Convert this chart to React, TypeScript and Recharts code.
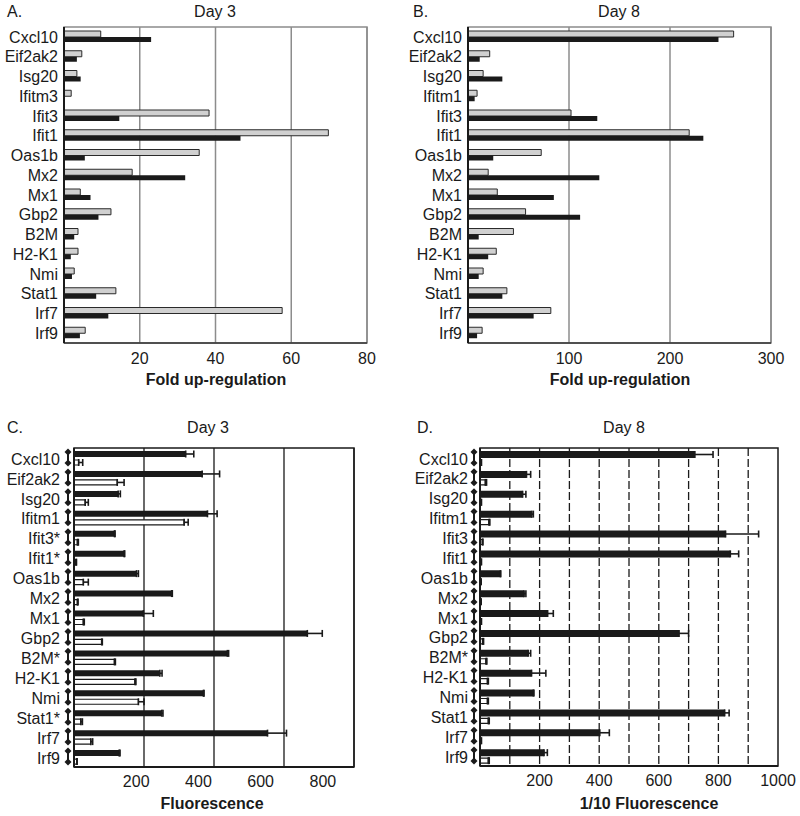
import React from 'react';
import { BarChart, Bar, XAxis, YAxis, CartesianGrid, ErrorBar, ReferenceArea } from 'recharts';

const FONT = '"Liberation Sans", Arial, Helvetica, sans-serif';
const INK = '#1a1a1a';

// A. Day 3 - fold up-regulation (gray = upper bar, black = lower bar)
const genesA = ['Cxcl10', 'Eif2ak2', 'Isg20', 'Ifitm3', 'Ifit3', 'Ifit1', 'Oas1b', 'Mx2', 'Mx1', 'Gbp2', 'B2M', 'H2-K1', 'Nmi', 'Stat1', 'Irf7', 'Irf9'];
const grayA = [9.7, 4.7, 3.4, 1.9, 38.3, 69.8, 35.7, 18, 4.3, 12.4, 3.7, 3.7, 2.7, 13.7, 57.6, 5.6];
const blackA = [23, 3.4, 4.4, 0, 14.6, 46.6, 5.5, 32, 7, 9.1, 2.7, 1.8, 2.1, 8.5, 11.7, 4.2];
const ticksA = [20, 40, 60, 80];

// B. Day 8 - fold up-regulation
const genesB = ['Cxcl10', 'Eif2ak2', 'Isg20', 'Ifitm1', 'Ifit3', 'Ifit1', 'Oas1b', 'Mx2', 'Mx1', 'Gbp2', 'B2M', 'H2-K1', 'Nmi', 'Stat1', 'Irf7', 'Irf9'];
const grayB = [263, 21.5, 15, 9, 102, 219, 72.5, 20, 29, 57, 45, 28, 15, 38.5, 82, 14];
const blackB = [248, 11.6, 34, 6.6, 128, 233, 25, 130, 85, 111, 10.6, 20, 10.6, 34, 65, 9];
const ticksB = [100, 200, 300];

// C. Day 3 - fluorescence
const genesC = ['Cxcl10', 'Eif2ak2', 'Isg20', 'Ifitm1', 'Ifit3*', 'Ifit1*', 'Oas1b', 'Mx2', 'Mx1', 'Gbp2', 'B2M*', 'H2-K1', 'Nmi', 'Stat1*', 'Irf7', 'Irf9'];
const blackC = [359, 412, 142, 429, 130, 161, 201, 314, 223, 750, 493, 276, 416, 282, 622, 145];
const blackErrC = [26, 56, 7, 31, 2, 2, 6, 2, 32, 48, 4, 7, 2, 4, 61, 3];
const whiteC = [15, 139, 36, 354, 11, 6, 30, 11, 30, 89, 130, 196, 207, 22, 54, 9];
const whiteErrC = [13, 22, 10, 13, 3, 2, 16, 2, 3, 2, 3, 3, 18, 5, 6, 1];
const ticksC = [200, 400, 600, 800];
const gridC = [225, 450, 675, 900];

// D. Day 8 - 1/10 fluorescence
const genesD = ['Cxcl10', 'Eif2ak2', 'Isg20', 'Ifitm1', 'Ifit3', 'Ifit1', 'Oas1b', 'Mx2', 'Mx1', 'Gbp2', 'B2M*', 'H2-K1', 'Nmi', 'Stat1', 'Irf7', 'Irf9'];
const blackD = [721, 156, 143, 174, 824, 840, 69, 148, 227, 668, 162, 173, 179, 821, 402, 215];
const blackErrD = [61, 14, 11, 5, 111, 28, 0, 6, 19, 32, 8, 48, 2, 15, 32, 11];
const whiteD = [3, 18, 3, 30, 8, 3, 2, 2, 3, 9, 20, 25, 25, 28, 3, 28];
const whiteErrD = [2, 4, 2, 3, 2, 2, 2, 2, 2, 3, 3, 3, 3, 3, 2, 3];
const ticksD = [200, 400, 600, 800, 1000];
const gridD = [100, 200, 300, 400, 500, 600, 700, 800, 900];

const foldRows = (genes: string[], gray: number[], black: number[]) =>
  genes.map((gene, i) => ({ gene, gray: gray[i], black: black[i] }));

const fluorRows = (genes: string[], black: number[], bErr: number[], white: number[], wErr: number[]) =>
  genes.map((gene, i) => ({
    gene,
    black: black[i],
    blackErr: [0, bErr[i]],
    white: white[i],
    whiteErr: [0, wErr[i]],
  }));

const tickStyle = { fontSize: 16, fill: INK, fontFamily: FONT };

// y tick with the diamond-ended bar seen in panels C and D
const DiamondTick = (props: any) => {
  const { x, y, payload, gap } = props;
  const d = 3.5;
  const top = y - 6;
  const bot = y + 5;
  return (
    <g>
      <line x1={x} x2={x} y1={top} y2={bot} stroke={INK} strokeWidth={2} />
      <path d={`M${x} ${top - d}L${x + d} ${top}L${x} ${top + d}L${x - d} ${top}Z`} fill={INK} />
      <path d={`M${x} ${bot - d}L${x + d} ${bot}L${x} ${bot + d}L${x - d} ${bot}Z`} fill={INK} />
      <text x={x - gap} y={y + 1} dy="0.355em" textAnchor="end" fontSize={16} fill={INK} fontFamily={FONT}>
        {payload.value}
      </text>
    </g>
  );
};

function FoldChart({ rows, max, ticks, left, right }: any) {
  return (
    <BarChart
      width={400}
      height={400}
      data={rows}
      layout="vertical"
      margin={{ top: 27, right, bottom: 27, left: 0 }}
      barGap={0}
    >
      <CartesianGrid horizontal={false} stroke="#8c8c8c" strokeWidth={1.5} />
      <ReferenceArea x1={0} x2={max} stroke="#8c8c8c" strokeWidth={1.5} fill="none" fillOpacity={0} />
      <XAxis
        type="number"
        domain={[0, max]}
        ticks={ticks}
        allowDataOverflow
        tickLine={false}
        tickSize={0}
        tickMargin={10}
        height={30}
        axisLine={{ stroke: '#333', strokeWidth: 1.5 }}
        tick={tickStyle}
      />
      <YAxis
        type="category"
        dataKey="gene"
        width={left}
        interval={0}
        tickLine={false}
        tickSize={0}
        tickMargin={6}
        axisLine={{ stroke: INK, strokeWidth: 2 }}
        tick={tickStyle}
      />
      <Bar dataKey="gray" barSize={6} fill="#d0d0d0" stroke="#2a2a2a" strokeWidth={1} isAnimationActive={false} />
      <Bar dataKey="black" barSize={5} fill={INK} isAnimationActive={false} />
    </BarChart>
  );
}

function FluorChart({ rows, max, ticks, grid, dashed, left, right, bottom, gap, blackSize, barGap }: any) {
  return (
    <BarChart
      width={400}
      height={416}
      data={rows}
      layout="vertical"
      margin={{ top: 48, right, bottom, left: 0 }}
      barGap={barGap}
    >
      <CartesianGrid
        horizontal={false}
        verticalValues={grid}
        stroke={INK}
        strokeWidth={1.3}
        strokeDasharray={dashed ? '8 3' : undefined}
      />
      <ReferenceArea x1={0} x2={max} stroke={INK} strokeWidth={1.5} fill="none" fillOpacity={0} />
      <XAxis
        type="number"
        domain={[0, max]}
        ticks={ticks}
        allowDataOverflow
        tickLine={false}
        tickSize={0}
        tickMargin={9}
        height={30}
        axisLine={{ stroke: INK, strokeWidth: 2 }}
        tick={tickStyle}
      />
      <YAxis
        type="category"
        dataKey="gene"
        width={left}
        interval={0}
        tickLine={false}
        tickSize={0}
        tickMargin={6}
        axisLine={{ stroke: INK, strokeWidth: 2 }}
        tick={<DiamondTick gap={gap} />}
      />
      <Bar dataKey="black" barSize={blackSize} fill={INK} isAnimationActive={false}>
        <ErrorBar dataKey="blackErr" direction="x" width={3.5} stroke={INK} strokeWidth={1.6} />
      </Bar>
      <Bar dataKey="white" barSize={5} fill="#fff" stroke={INK} strokeWidth={1.2} isAnimationActive={false}>
        <ErrorBar dataKey="whiteErr" direction="x" width={3.5} stroke={INK} strokeWidth={1.6} />
      </Bar>
    </BarChart>
  );
}

const Txt = ({ x, y, children, bold, center }: any) => (
  <div
    style={{
      position: 'absolute',
      left: x,
      top: y,
      transform: center ? 'translate(-50%, -50%)' : 'translate(0, -50%)',
      fontSize: 16,
      lineHeight: '16px',
      fontWeight: bold ? 700 : 400,
      color: INK,
      whiteSpace: 'nowrap',
    }}
  >
    {children}
  </div>
);

export default function App() {
  return (
    <div
      style={{
        position: 'absolute',
        left: 0,
        top: 0,
        width: 800,
        height: 816,
        background: '#fff',
        fontFamily: FONT,
        overflow: 'hidden',
      }}
    >
      <div style={{ position: 'absolute', left: 0, top: 0 }}>
        <FoldChart rows={foldRows(genesA, grayA, blackA)} max={80} ticks={ticksA} left={64} right={33} />
      </div>
      <div style={{ position: 'absolute', left: 400, top: 0 }}>
        <FoldChart rows={foldRows(genesB, grayB, blackB)} max={300} ticks={ticksB} left={68} right={29} />
      </div>
      <div style={{ position: 'absolute', left: 0, top: 400 }}>
        <FluorChart
          rows={fluorRows(genesC, blackC, blackErrC, whiteC, whiteErrC)}
          max={900}
          ticks={ticksC}
          grid={gridC}
          left={74}
          right={46}
          bottom={19}
          gap={8}
          blackSize={6}
          barGap={3}
        />
      </div>
      <div style={{ position: 'absolute', left: 400, top: 400 }}>
        <FluorChart
          rows={fluorRows(genesD, blackD, blackErrD, whiteD, whiteErrD)}
          max={1000}
          ticks={ticksD}
          grid={gridD}
          dashed
          left={80}
          right={22}
          bottom={20}
          gap={6}
          blackSize={7}
          barGap={2}
        />
      </div>

      <Txt x={7} y={12}>A.</Txt>
      <Txt x={215} y={12} center>Day 3</Txt>
      <Txt x={216} y={380} center bold>Fold up-regulation</Txt>

      <Txt x={413} y={12}>B.</Txt>
      <Txt x={619} y={12} center>Day 8</Txt>
      <Txt x={620} y={380} center bold>Fold up-regulation</Txt>

      <Txt x={7} y={428}>C.</Txt>
      <Txt x={208} y={428} center>Day 3</Txt>
      <Txt x={212} y={804} center bold>Fluorescence</Txt>

      <Txt x={417} y={428}>D.</Txt>
      <Txt x={624} y={428} center>Day 8</Txt>
      <Txt x={649} y={804} center bold>1/10 Fluorescence</Txt>
    </div>
  );
}
